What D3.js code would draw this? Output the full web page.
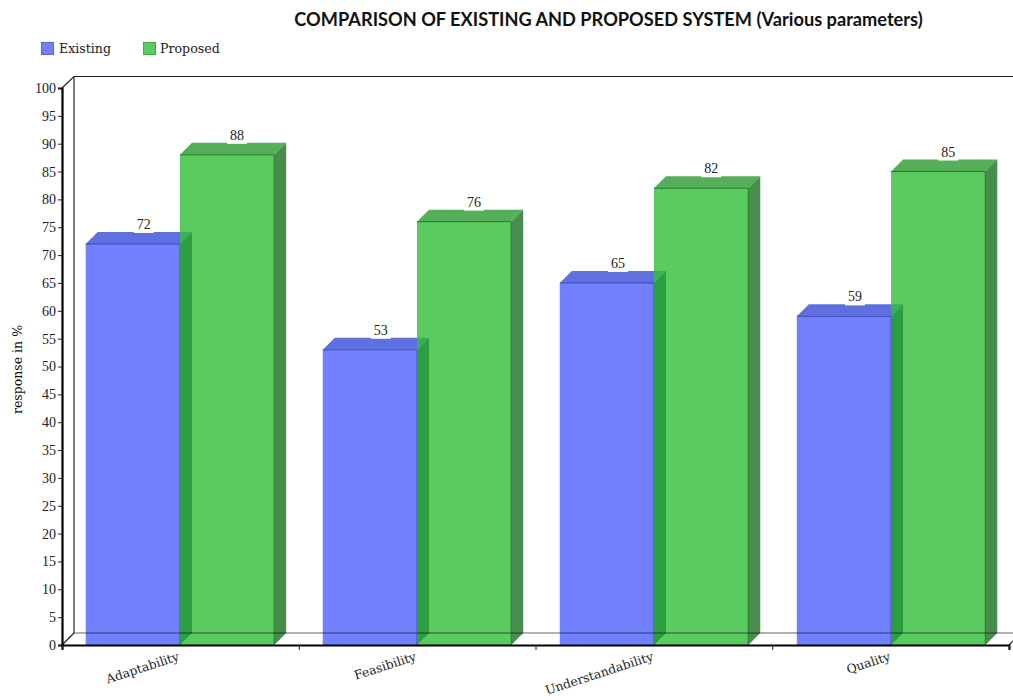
<!DOCTYPE html>
<html><head><meta charset="utf-8">
<script src="https://cdn.jsdelivr.net/npm/d3@7/dist/d3.min.js"></script>
<style>html,body{margin:0;padding:0;background:#fff;overflow:hidden}svg{display:block}</style>
</head><body><div id="chart"></div>
<script>
const categories = ["Adaptability","Feasibility","Understandability","Quality"];
const seriesNames = ["Existing","Proposed"];
const existing = [72,53,65,59];
const proposed = [88,76,82,85];
const yTicks = d3.range(0,101,5);
const chartTitle = "COMPARISON OF EXISTING AND PROPOSED SYSTEM (Various parameters)";
const yTitle = "response in %";

(function(){
const W=1013,H=700, left=62, right=1009, topY=88, bottom=645, depth=12;
const serif='"Liberation Serif",serif', slab='"DejaVu Serif",serif';
const svg=d3.select("#chart").append("svg").attr("width",W).attr("height",H);
const x=d3.scaleBand().domain(categories).range([left,right]).paddingInner(0.205).paddingOuter(0.1);
const xs=d3.scaleBand().domain(seriesNames).range([0,x.bandwidth()]);
const y=d3.scaleLinear().domain([0,100]).range([bottom,topY]);
const xEdge=d3.scaleLinear().domain([0,categories.length]).range([left,right]);

// back wall and floor
const wall=svg.append("g").attr("fill","none").attr("stroke","#222").attr("stroke-width",1.2);
wall.append("path").attr("d",`M${left},${y(100)}L${left+depth},${y(100)-depth+.5}H${W+5}`);
wall.append("path").attr("d",`M${left+depth},${y(100)-depth+.5}V${y(0)-depth}`);
wall.append("path").attr("d",`M${left},${y(0)}L${left+depth},${y(0)-depth}`);
wall.append("path").attr("d",`M${right},${y(0)}L${right+depth},${y(0)-depth}`);

const styles={
 Existing:{front:"#7080ff",top:"#5f70e0",side:"#051e64",edge:"#3a48b8",op:1},
 Proposed:{front:"#33be37",top:"#2a9a2e",side:"#1a6f22",edge:"#1d7a28",op:0.8}
};
function bar(g,name,cat,val){
  const s=styles[name], x0=x(cat)+xs(name), x1=x0+xs.bandwidth(), yT=y(val), yB=y(0);
  g.append("path").attr("fill",s.side).attr("fill-opacity",s.op)
   .attr("d",`M${x1},${yT}L${x1+depth},${yT-depth}V${yB-depth}L${x1},${yB}Z`);
  g.append("path").attr("fill",s.top).attr("fill-opacity",s.op)
   .attr("d",`M${x0},${yT}L${x0+depth},${yT-depth}H${x1+depth}L${x1},${yT}Z`);
  g.append("rect").attr("x",x0).attr("y",yT).attr("width",x1-x0).attr("height",yB-yT)
   .attr("fill",s.front).attr("fill-opacity",s.op);
  g.append("path").attr("fill","none").attr("stroke",s.edge).attr("stroke-width",1)
   .attr("d",`M${x0},${yT}H${x1}V${yB}`);
}
const bars=svg.append("g");
categories.forEach((c,i)=>{
  bar(bars,"Existing",c,existing[i]);
  bar(bars,"Proposed",c,proposed[i]);
});
// back-wall floor line seen through the bars
svg.append("line").attr("x1",left+depth).attr("x2",W).attr("y1",y(0)-depth).attr("y2",y(0)-depth)
  .attr("stroke","#111").attr("stroke-opacity",0.65).attr("stroke-width",1.2);

// value labels
const labels=svg.append("g").attr("font-family",serif).attr("font-size",14).attr("fill","#222").attr("text-anchor","middle");
categories.forEach((c,i)=>{
  [["Existing",existing[i]],["Proposed",proposed[i]]].forEach(([n,v])=>{
    const cx=x(c)+xs(n)+xs.bandwidth()/2+depth-(n==="Existing"?1:2), yb=y(v)-depth;
    labels.append("rect").attr("x",cx-10).attr("y",yb-3).attr("width",20).attr("height",4).attr("fill","#fff");
    labels.append("text").attr("x",cx).attr("y",yb-3).text(v);
  });
});

// axes
const yAxis=d3.axisLeft(y).tickValues(yTicks).tickSize(4).tickPadding(2);
const gy=svg.append("g").attr("transform",`translate(${left},0)`).call(yAxis);
gy.select(".domain").attr("stroke","#000").attr("stroke-width",2.2);
gy.selectAll(".tick line").attr("stroke","#222");
gy.selectAll(".tick text").attr("font-family",serif).attr("font-size",14).attr("fill","#222");
const xAxis=d3.axisBottom(xEdge).tickValues(d3.range(0,categories.length+1)).tickSize(5).tickFormat("");
const gx=svg.append("g").attr("transform",`translate(0,${bottom})`).call(xAxis);
gx.select(".domain").attr("stroke","#000").attr("stroke-width",2.2);
gx.selectAll(".tick line").attr("stroke","#222");

// category labels
svg.append("g").selectAll("text").data(categories).join("text")
  .attr("font-family",slab).attr("font-size",12.3).attr("fill","#222").attr("text-anchor","end")
  .attr("transform",d=>`translate(${x(d)+x.bandwidth()/2},${bottom+15}) rotate(-18)`)
  .text(d=>d);

// y title
svg.append("text").attr("transform",`translate(22,${(topY+bottom)/2+3}) rotate(-90)`)
  .attr("text-anchor","middle").attr("font-family",slab).attr("font-size",12.5).attr("fill","#111").text(yTitle);

// title
svg.append("text").attr("x",608.5).attr("y",26).attr("text-anchor","middle")
  .attr("font-family",'Lato,sans-serif').attr("font-weight",700).attr("font-size",18.2).attr("fill","#111").text(chartTitle);

// legend
const legendX=d3.scalePoint().domain(seriesNames).range([41,143]);
const legendColors=["#7080ff","#5ccb5f"], legendEdges=["#5a68c8","#4ba04e"];
seriesNames.forEach((n,i)=>{
  svg.append("rect").attr("x",legendX(n)+.5).attr("y",42.5).attr("width",12).attr("height",12)
    .attr("fill",legendColors[i]).attr("stroke",legendEdges[i]);
  svg.append("text").attr("x",legendX(n)+18-(i?1:0)).attr("y",53).attr("font-family",slab).attr("font-size",12.6).attr("fill","#222").text(n);
});
})();
</script></body></html>
